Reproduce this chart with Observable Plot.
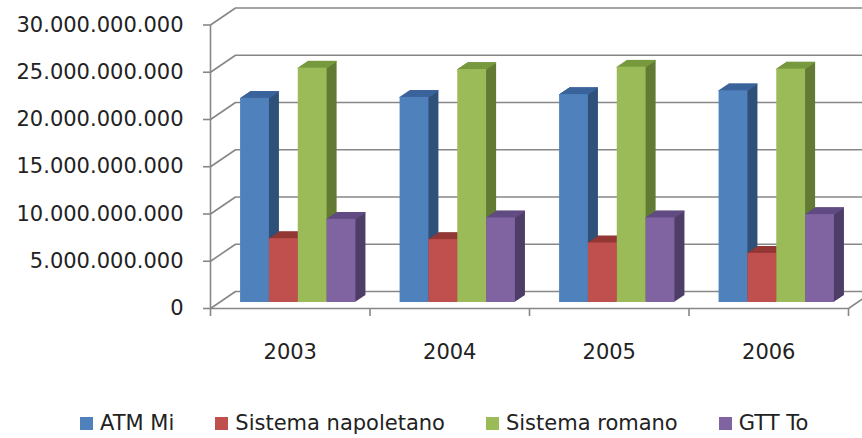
<!DOCTYPE html>
<html><head><meta charset="utf-8">
<script src="https://cdn.jsdelivr.net/npm/d3@7"></script>
<script src="https://cdn.jsdelivr.net/npm/@observablehq/plot@0.6"></script>
<style>
body{margin:0;background:#fff;overflow:hidden;font-family:"DejaVu Sans",sans-serif;}
svg{overflow:hidden}
#legend{display:flex;align-items:center;gap:41px;padding-left:80px;margin-top:10px;height:26px;font-size:21px;color:#222;}
.item{display:flex;align-items:center;gap:7px;white-space:nowrap}
.sw{width:13px;height:13px;display:inline-block}
</style></head><body><div id="chart"></div><div id="legend"></div>
<script>
const years = ["2003", "2004", "2005", "2006"];
const seriesNames = ["ATM Mi", "Sistema napoletano", "Sistema romano", "GTT To"];
const atmMi = [21.6e9, 21.7e9, 22.0e9, 22.4e9];
const napoletano = [6.75e9, 6.65e9, 6.3e9, 5.2e9];
const romano = [24.8e9, 24.65e9, 24.9e9, 24.7e9];
const gttTo = [8.8e9, 8.95e9, 8.95e9, 9.3e9];
const yTicks = [0, 5e9, 10e9, 15e9, 20e9, 25e9, 30e9];

const frontColors = ["#4f81bd", "#c0504d", "#9bbb59", "#8064a2"];
const sideColors = ["#2f5079", "#7e2f2d", "#637a35", "#4e3d66"];
const topColors = ["#3b649c", "#943835", "#789a3e", "#624c84"];
const gray = "#878787";

const seriesValues = [atmMi, napoletano, romano, gttTo];
const rows = years.flatMap((year, i) => seriesNames.map((series, j) => ({i, j, year, series, value: seriesValues[j][i]})));

// 3D projection settings (pixels)
const W = 862, H = 400, mL = 210, mR = 14, mT = 24.5, mB = 92;
const WX = 25, WY = -17;      // wall depth offset
const BX = 8, BY = -6;        // bar front plane offset
const DX = 10, DY = -6.7;     // bar depth
const pxPerX = (W - mL - mR) / years.length;
const pxPerY = (H - mT - mB) / 30e9;

const gap = 0.1385, bw = 0.1808;
const x1 = d => d.i + gap + d.j * bw;
const x2 = d => d.i + gap + (d.j + 1) * bw;

const it = d3.formatLocale({decimal: ",", thousands: ".", grouping: [3], currency: ["€", ""]});
const fmt = it.format(",.0f");

const marks = [
  // back wall gridlines
  Plot.ruleY(yTicks, {dx: WX, dy: WY, stroke: gray, strokeWidth: 1.6}),
  // left wall diagonals
  Plot.link(yTicks, {x1: 0, y1: d => d, x2: WX / pxPerX, y2: d => d - WY / pxPerY, stroke: gray, strokeWidth: 1.6}),
  // right floor edge
  Plot.link([0], {x1: years.length, y1: 0, x2: years.length + WX / pxPerX, y2: -WY / pxPerY, stroke: gray, strokeWidth: 1.6}),
  // front axis line and floor edge
  Plot.ruleX([0], {y1: 0, y2: 30e9, stroke: gray, strokeWidth: 1.6}),
  Plot.ruleY([0], {stroke: gray, strokeWidth: 1.6}),
  Plot.axisY({ticks: yTicks, tickSize: 7, tickPadding: 20, tickFormat: fmt, label: null, stroke: gray, strokeWidth: 1.6, fill: "#222"}),
  Plot.axisX({ticks: d3.range(years.length + 1), tickSize: 8, tickFormat: () => "", label: null, stroke: gray, strokeWidth: 1.6}),
  Plot.axisX({ticks: years.map((y, i) => i + 0.5), tickSize: 0, tickPadding: 36, tickFormat: d => years[Math.floor(d)], label: null, fill: "#222"})
];

seriesNames.forEach((s, j) => {
  const data = rows.filter(d => d.j === j);
  for (let k = 1; k <= DX; k++) {
    marks.push(Plot.rectY(data, {x1, x2, y1: 0, y2: "value", fill: sideColors[j], dx: BX + k, dy: BY + DY * k / DX}));
  }
  for (let k = 0; k <= DX; k++) {
    marks.push(Plot.ruleY(data, {x1, x2, y: "value", stroke: topColors[j], strokeWidth: 1.2, dx: BX + k, dy: BY + DY * k / DX}));
  }
  marks.push(Plot.rectY(data, {x1, x2, y1: 0, y2: "value", fill: frontColors[j], dx: BX, dy: BY}));
});

const chart = Plot.plot({
  width: W, height: H,
  marginLeft: mL, marginRight: mR, marginTop: mT, marginBottom: mB,
  x: {domain: [0, years.length]},
  y: {domain: [0, 30e9]},
  style: {fontFamily: "DejaVu Sans", fontSize: "21px", color: "#222", background: "#fff"},
  marks
});
document.getElementById("chart").append(chart);

const legend = document.getElementById("legend");
seriesNames.forEach((s, j) => {
  const item = document.createElement("div");
  item.className = "item";
  const sw = document.createElement("span");
  sw.className = "sw";
  sw.style.background = frontColors[j];
  const t = document.createElement("span");
  t.textContent = s;
  item.append(sw, t);
  legend.append(item);
});
</script></body></html>
